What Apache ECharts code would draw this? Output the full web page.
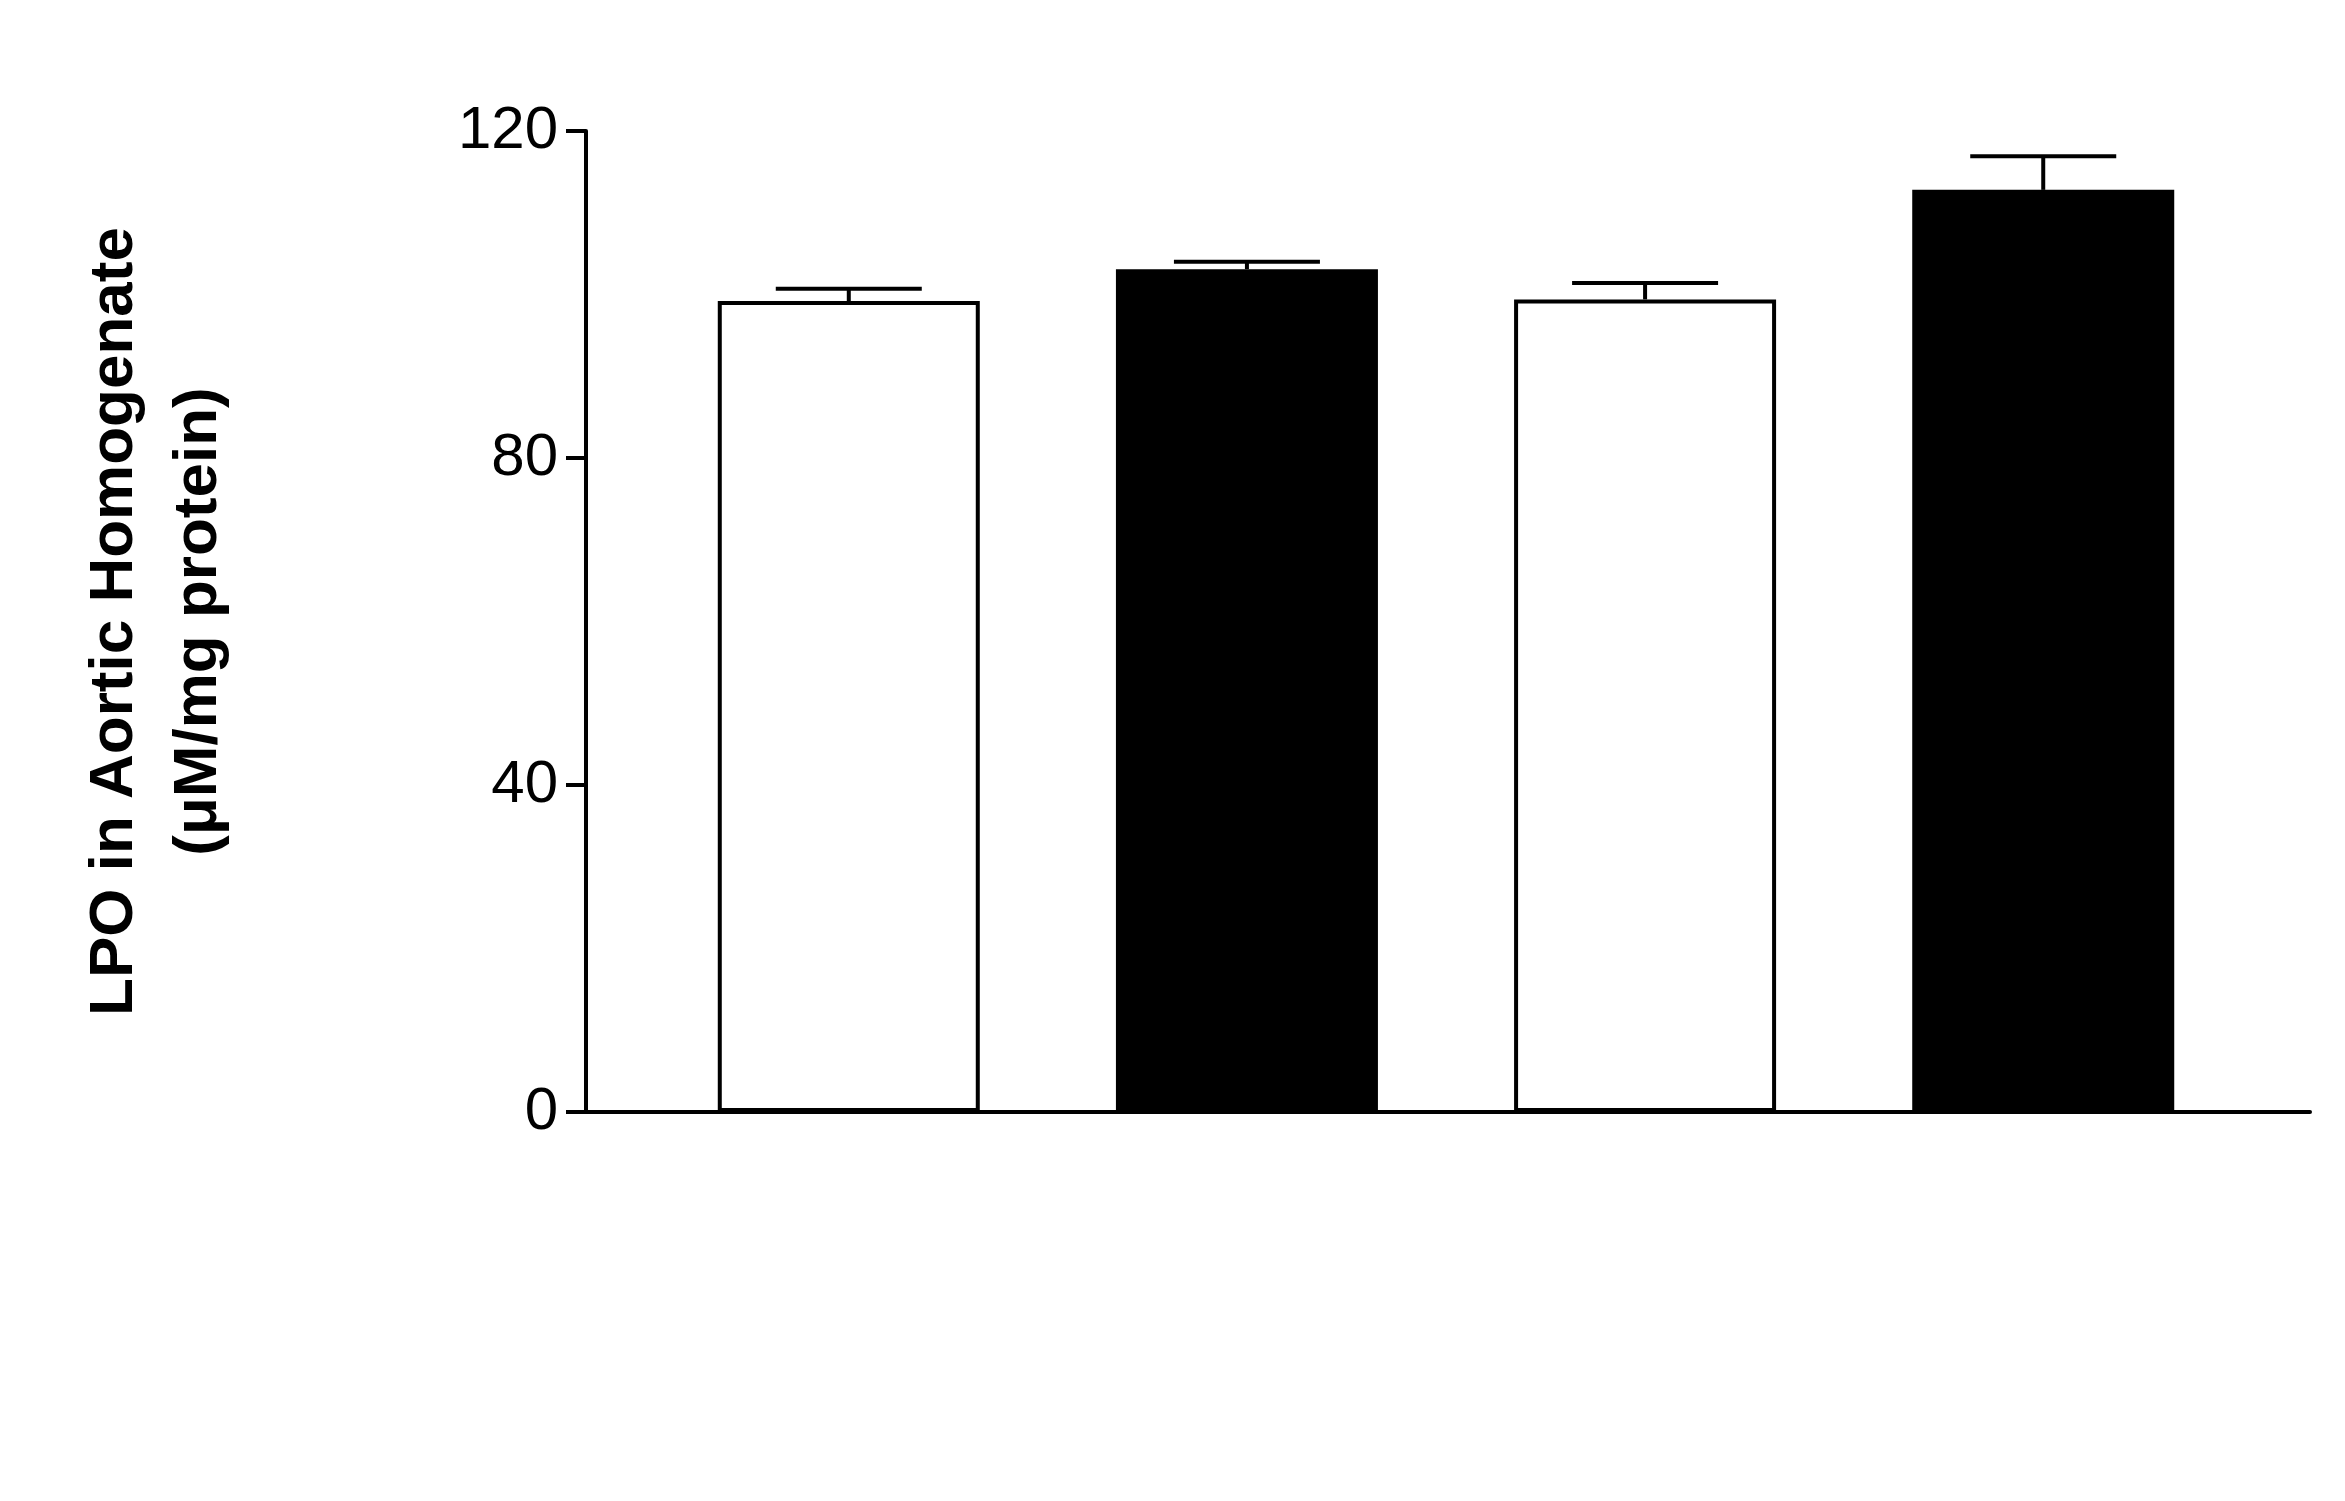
<!DOCTYPE html>
<html>
<head>
<meta charset="utf-8">
<script src="https://cdn.jsdelivr.net/npm/echarts@6/dist/echarts.min.js"></script>
<style>html,body{margin:0;background:#fff}#main{width:2345px;height:1501px}</style>
</head>
<body>
<div id="main"></div>
<script>
var groups = ['Saline', 'CeO{s|2}NPs', 'CP+saline', 'CP+CeO{s|2}NPs'];
var means = [99.2, 103.1, 99.4, 112.8];
var errs = [1.5, 0.9, 2.0, 4.1];
var fills = ['#fff', '#000', '#fff', '#000'];
var yTicks = [0, 40, 80, 120];
var marks = ['', '', '', '***\u0394\u0394'];

var myChart = echarts.init(document.getElementById('main'));
var pos = means.map(function (v, i) { return i + 1; });

option = {
  animation: false,
  grid: { left: 586, right: 35, top: 131, bottom: 389 },
  xAxis: {
    type: 'value', min: 0.34, max: 4.67,
    axisLine: { show: true, onZero: false, lineStyle: { color: '#000', width: 4 } },
    axisTick: { show: false }, axisLabel: { show: false }, splitLine: { show: false }
  },
  yAxis: {
    type: 'value', min: 0, max: 120, interval: 40,
    name: 'LPO in Aortic Homogenate\n(\u03bcM/mg protein)',
    nameLocation: 'middle', nameGap: 345, nameRotate: 90,
    nameTextStyle: { fontFamily: 'Liberation Sans', fontWeight: 'bold', fontSize: 62, color: '#000', lineHeight: 84 },
    axisLine: { show: true, lineStyle: { color: '#000', width: 4 } },
    axisTick: { show: true, inside: false, length: 20, lineStyle: { width: 4 } },
    axisLabel: { fontFamily: 'Liberation Sans', fontSize: 60, color: '#000', margin: 28 },
    splitLine: { show: false }
  },
  series: [
    {
      type: 'bar', barWidth: 262,
      data: means.map(function (v, i) {
        return { value: [pos[i], v], itemStyle: { color: fills[i], borderColor: '#000', borderWidth: 4 } };
      })
    },
    {
      type: 'custom', z: 1,
      renderItem: function (params, api) {
        var top = api.coord([api.value(0), api.value(1) + api.value(2)]);
        var base = api.coord([api.value(0), api.value(1)]);
        return { type: 'group', children: [
          { type: 'line', shape: { x1: top[0], y1: top[1], x2: base[0], y2: base[1] }, style: { stroke: '#000', lineWidth: 4 } },
          { type: 'line', shape: { x1: top[0] - 73, y1: top[1], x2: top[0] + 73, y2: top[1] }, style: { stroke: '#000', lineWidth: 4 } }
        ]};
      },
      data: means.map(function (v, i) { return [pos[i], v, errs[i]]; })
    },
    {
      type: 'scatter', symbol: 'circle', symbolSize: 1, itemStyle: { opacity: 0 },
      data: means.map(function (v, i) { return [pos[i], v + errs[i], marks[i]]; }),
      label: { show: true, position: 'top', distance: 24, formatter: function (p) { return p.value[2]; },
        fontFamily: 'DejaVu Sans', fontSize: 66, color: '#000' }
    },
    {
      type: 'scatter', symbol: 'circle', symbolSize: 1, itemStyle: { opacity: 0 },
      data: groups.map(function (g, i) { return [pos[i], 0, g]; }),
      label: {
        show: true, position: 'bottom', distance: 70, rotate: 45, align: 'right', verticalAlign: 'middle',
        offset: [70, 0],
        formatter: function (p) { return p.value[2]; },
        fontFamily: 'Liberation Sans', fontWeight: 'bold', fontSize: 48, color: '#000',
        rich: { s: { fontFamily: 'Liberation Sans', fontSize: 32, fontWeight: 'bold', verticalAlign: 'bottom', padding: [24, 0, 0, 0] } }
      }
    }
  ]
};
myChart.setOption(option);
</script>
</body>
</html>
